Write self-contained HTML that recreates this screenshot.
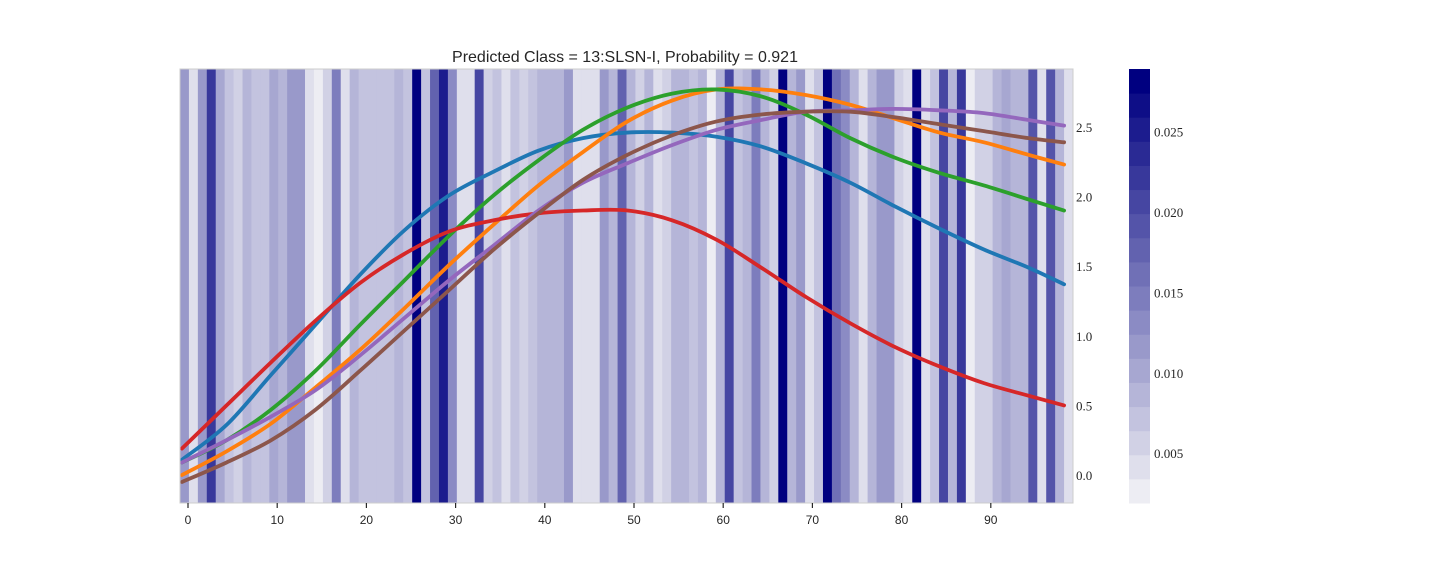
<!DOCTYPE html>
<html><head><meta charset="utf-8"><style>
body{margin:0;background:#fff;width:1440px;height:576px;overflow:hidden}
svg{display:block}
</style></head><body>
<svg id="chart" width="1440" height="576" font-family="Liberation Sans, sans-serif">
<text x="625" y="62" text-anchor="middle" font-size="16" fill="#262626">Predicted Class = 13:SLSN-I, Probability = 0.921</text>
<g id="cells"></g>
<g id="lines"></g>
<rect x="180" y="69" width="893" height="434" fill="none" stroke="#cccccc" stroke-width="1"/>
<g id="xticks"></g>
<g id="yticks"></g>
<g id="cbar"></g>
</svg>
<script>
const weights=[0.012,0.004,0.012,0.022,0.010,0.007,0.005,0.008,0.006,0.006,
0.010,0.009,0.012,0.012,0.004,0.002,0.005,0.014,0.004,0.009,
0.006,0.006,0.006,0.007,0.008,0.007,0.029,0.006,0.018,0.025,
0.013,0.004,0.004,0.021,0.005,0.007,0.004,0.006,0.005,0.007,
0.008,0.008,0.008,0.011,0.004,0.004,0.003,0.011,0.009,0.017,
0.009,0.005,0.009,0.003,0.005,0.009,0.008,0.006,0.008,0.002,
0.009,0.021,0.006,0.009,0.014,0.009,0.005,0.029,0.009,0.011,
0.003,0.006,0.029,0.016,0.013,0.008,0.004,0.008,0.011,0.011,
0.005,0.003,0.029,0.004,0.006,0.021,0.008,0.022,0.002,0.005,
0.005,0.009,0.010,0.009,0.009,0.019,0.004,0.020,0.008,0.004];
const sampleIdx=[0,5,10,15,20,25,30,35,40,45,50,55,60,65,70,75,80,85,90,95,99];
const blue=[0.11,0.36,0.72,1.08,1.44,1.76,2.01,2.18,2.33,2.42,2.46,2.46,2.43,2.36,2.24,2.10,1.93,1.77,1.62,1.49,1.37];
const orange=[0.0,0.17,0.37,0.63,0.90,1.20,1.51,1.80,2.08,2.32,2.54,2.69,2.77,2.77,2.73,2.66,2.56,2.46,2.39,2.30,2.23];
const green=[0.09,0.25,0.47,0.75,1.08,1.40,1.72,2.01,2.26,2.48,2.64,2.74,2.77,2.72,2.59,2.42,2.28,2.17,2.08,1.98,1.90];
const red=[0.19,0.50,0.81,1.11,1.38,1.59,1.75,1.83,1.88,1.90,1.90,1.83,1.69,1.49,1.28,1.09,0.92,0.78,0.66,0.57,0.50];
const purple=[0.09,0.25,0.42,0.61,0.86,1.13,1.40,1.65,1.90,2.10,2.24,2.37,2.48,2.55,2.61,2.62,2.63,2.62,2.60,2.55,2.51];
const brown=[-0.05,0.09,0.25,0.47,0.75,1.04,1.33,1.62,1.88,2.12,2.30,2.44,2.54,2.59,2.61,2.61,2.57,2.52,2.47,2.42,2.39];
const xTicks=[0,10,20,30,40,50,60,70,80,90];
const yTicks=[0.0,0.5,1.0,1.5,2.0,2.5];
const cTicks=[0.005,0.010,0.015,0.020,0.025];

const NS='http://www.w3.org/2000/svg';
const PL=180,PW=893,PT=69,PB=503;
const cw=PW/weights.length;
const xCell=i=>PL+i*cw;
const xLine=i=>182+i*8.91;
const xTick=t=>188+t*8.92;
const yv=v=>475-v*139.2;
const VMIN=0.0019,VMAX=0.0289;
const CBT=69,CBB=503;
const yc=v=>CBB-(v-VMIN)/(VMAX-VMIN)*(CBB-CBT);
function color(v){
  let t=(v-VMIN)/(VMAX-VMIN);t=Math.max(0,Math.min(1,t));
  t=Math.round(t*17)/17;
  const a=[237,237,243],b=[0,0,128];
  return 'rgb('+a.map((c,k)=>Math.round(c+(b[k]-c)*t)).join(',')+')';
}
function mk(tag,attrs,parent){const e=document.createElementNS(NS,tag);for(const k in attrs)e.setAttribute(k,attrs[k]);parent.appendChild(e);return e;}
const cells=document.getElementById('cells');
weights.forEach((w,i)=>{
  const r=mk('rect',{x:xCell(i),y:PT,width:cw+0.4,height:PB-PT,fill:color(w)},cells);
  
  
});
const series=[['blue',blue,'#1f77b4'],['orange',orange,'#ff7f0e'],['green',green,'#2ca02c'],['red',red,'#d62728'],['purple',purple,'#9467bd'],['brown',brown,'#8c564b']];
const lines=document.getElementById('lines');
series.forEach(([nm,vals,col])=>{
  const p=vals.map((v,k)=>[xLine(sampleIdx[k]),yv(v)]);
  let d='M'+p[0][0]+','+p[0][1];
  for(let k=0;k<p.length-1;k++){
    const p0=p[k-1]||p[k],p1=p[k],p2=p[k+1],p3=p[k+2]||p[k+1];
    d+=' C'+(p1[0]+(p2[0]-p0[0])/6)+','+(p1[1]+(p2[1]-p0[1])/6)+' '+(p2[0]-(p3[0]-p1[0])/6)+','+(p2[1]-(p3[1]-p1[1])/6)+' '+p2[0]+','+p2[1];
  }
  const e=mk('path',{d:d,fill:'none',stroke:col,'stroke-width':3.8,'stroke-linecap':'round'},lines);
  
  
});
const xt=document.getElementById('xticks');
xTicks.forEach(t=>{
  const x=xTick(t);
  const l=mk('line',{x1:x,x2:x,y1:PB,y2:PB+5,stroke:'#262626','stroke-width':1.2},xt);
  
  
  const tx=mk('text',{x:x,y:PB+21,'text-anchor':'middle','font-size':12,fill:'#262626'},xt);
  tx.textContent=t;
  
  
});
const yt=document.getElementById('yticks');
yTicks.forEach(t=>{
  const tx=mk('text',{x:1076,y:yv(t)+5,'font-size':13,fill:'#262626','font-family':'Liberation Serif, serif'},yt);
  tx.textContent=t.toFixed(1);
  
  
});
const cb=document.getElementById('cbar');
const N=18;
for(let k=0;k<N;k++){
  const v0=VMIN+(VMAX-VMIN)*k/N,v1=VMIN+(VMAX-VMIN)*(k+1)/N;
  const r=mk('rect',{x:1129,y:yc(v1),width:21,height:yc(v0)-yc(v1)+0.5,fill:color((v0+v1)/2)},cb);
  
  
}
cTicks.forEach(t=>{
  const tx=mk('text',{x:1154,y:yc(t)+5,'font-size':13,fill:'#262626','font-family':'Liberation Serif, serif'},cb);
  tx.textContent=t.toFixed(3);
  
  
});
</script>
</body></html>
